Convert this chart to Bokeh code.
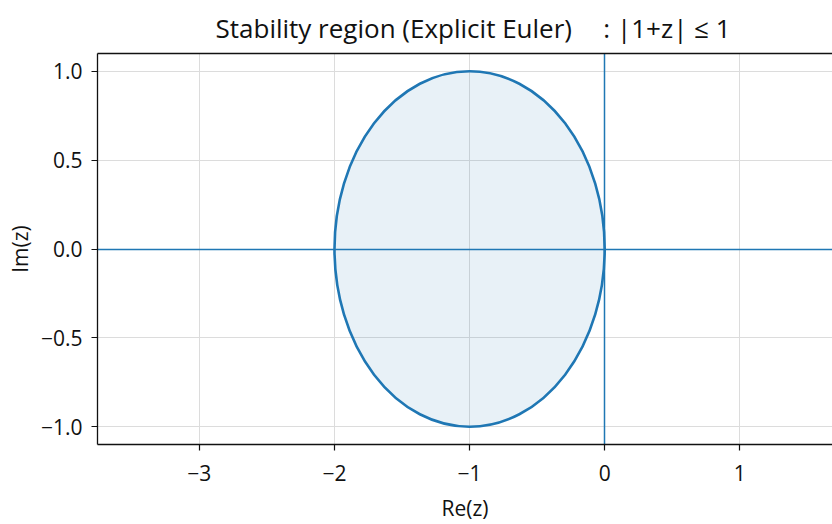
from bokeh.plotting import figure
from bokeh.models import FixedTicker, LinearAxis, Range1d
from bokeh.embed import file_html
from bokeh.resources import INLINE

# data
center_re = [-1.0]
center_im = [0.0]
radius = [1.0]
x_ticks = [-3, -2, -1, 0, 1]
x_tick_labels = ["\u22123", "\u22122", "\u22121", "0", "1"]
y_ticks = [-1.0, -0.5, 0.0, 0.5, 1.0]
y_tick_labels = ["\u22121.0", "\u22120.5", "0.0", "0.5", "1.0"]
x_lim = (-3.754, 1.686)
y_lim = (-1.1, 1.1)
title_text = "Stability region (Explicit Euler)" + "\u00a0" * 4 + "\u2009" + ": |1+z| \u2264 1"
x_label = "Re(z)"
y_label = "Im(z)"
axis_re = [0.0]
axis_im = [0.0]

FONT = "Open Sans"
BLUE = "#1f77b4"
INK = "#111111"

p = figure(width=832, height=524, output_backend="svg", toolbar_location=None,
           x_range=Range1d(*x_lim), y_range=Range1d(*y_lim),
           min_border_left=97, min_border_right=0, min_border_top=53, min_border_bottom=80,
           title=title_text)
p.title.text_font = FONT
p.title.text_font_size = "26px"
p.title.text_font_style = "normal"
p.title.align = "left"
p.title.text_color = INK
p.title.offset = 118
p.title.standoff = 15

p.outline_line_color = None
p.background_fill_color = "white"
p.border_fill_color = "white"

# grids
for g in (p.xgrid, p.ygrid):
    g.grid_line_color = "#dcdcdc"
    g.grid_line_width = 1
p.xgrid.ticker = FixedTicker(ticks=x_ticks)
p.ygrid.ticker = FixedTicker(ticks=y_ticks)

# axes
for ax in (p.xaxis[0], p.yaxis[0]):
    ax.axis_line_width = 1.3
    ax.axis_line_color = INK
    ax.major_tick_line_color = INK
    ax.major_tick_line_width = 1.2
    ax.major_tick_out = 6
    ax.major_tick_in = 0
    ax.minor_tick_line_color = None
    ax.major_label_text_font = FONT
    ax.major_label_text_font_size = "21px"
    ax.major_label_text_color = INK
    ax.axis_label_text_font = FONT
    ax.axis_label_text_font_size = "21px"
    ax.axis_label_text_font_style = "normal"
    ax.axis_label_text_color = INK

p.xaxis[0].ticker = FixedTicker(ticks=x_ticks)
p.xaxis[0].major_label_overrides = dict(zip(x_ticks, x_tick_labels))
p.xaxis[0].axis_label = x_label
p.xaxis[0].major_label_standoff = 14
p.xaxis[0].axis_label_standoff = 10

p.yaxis[0].ticker = FixedTicker(ticks=y_ticks)
p.yaxis[0].major_label_overrides = dict(zip(y_ticks, y_tick_labels))
p.yaxis[0].axis_label = y_label
p.yaxis[0].major_label_standoff = 9
p.yaxis[0].axis_label_standoff = 4

# top spine
top = LinearAxis(ticker=FixedTicker(ticks=[]), major_label_text_font_size="0px",
                 major_label_standoff=0, major_tick_out=0, major_tick_in=0,
                 minor_tick_out=0, minor_tick_in=0,
                 axis_line_width=1.3, axis_line_color=INK,
                 major_tick_line_color=None, minor_tick_line_color=None)
p.add_layout(top, "above")

# stability region fill
p.ellipse(x=center_re, y=center_im, width=[2 * r for r in radius], height=[2 * r for r in radius],
          fill_color=BLUE, fill_alpha=0.1, line_color=None)

# axis lines
p.hspan(y=axis_im, line_color=BLUE, line_width=1.5)
p.vspan(x=axis_re, line_color=BLUE, line_width=1.5)

# stability region boundary
p.ellipse(x=center_re, y=center_im, width=[2 * r for r in radius], height=[2 * r for r in radius],
          fill_color=None, line_color=BLUE, line_width=2.6)

open("out.html", "w").write(file_html(p, INLINE))
